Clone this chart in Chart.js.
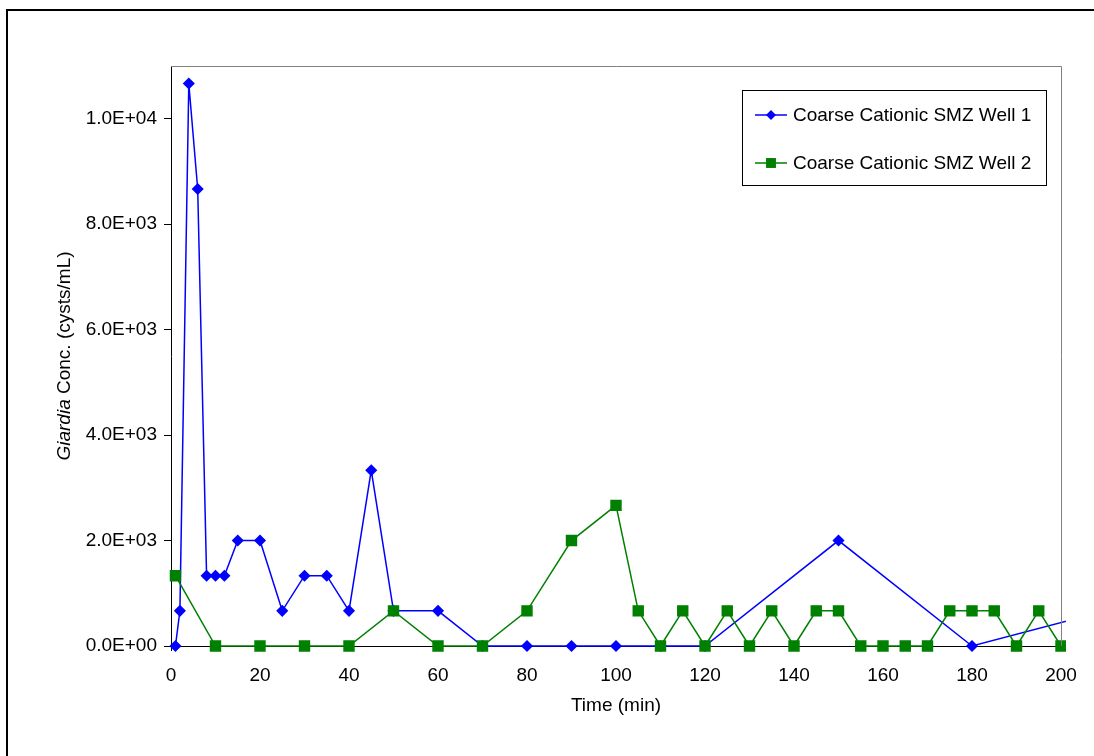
<!DOCTYPE html>
<html>
<head>
<meta charset="utf-8">
<script src="https://cdn.jsdelivr.net/npm/chart.js@4"></script>
<style>
  html, body { margin: 0; padding: 0; background: #fff; }
  #wrap { width: 1094px; height: 756px; }
</style>
</head>
<body>
<div id="wrap"><canvas id="myChart" width="1094" height="756"></canvas></div>
<script>
// times (min) and Giardia concentrations (cysts/mL)
const timeWell1 = [1, 2, 4, 6, 8, 10, 12, 15, 20, 25, 30, 35, 40, 45, 50, 60, 70, 80, 90, 100, 110, 120, 150, 180, 210];
const concWell1 = [0, 667, 10667, 8667, 1333, 1333, 1333, 2000, 2000, 667, 1333, 1333, 667, 3333, 667, 667, 0, 0, 0, 0, 0, 0, 2000, 0, 667];

const timeWell2 = [1, 10, 20, 30, 40, 50, 60, 70, 80, 90, 100, 105, 110, 115, 120, 125, 130, 135, 140, 145, 150, 155, 160, 165, 170, 175, 180, 185, 190, 195, 200];
const concWell2 = [1333, 0, 0, 0, 0, 667, 0, 0, 667, 2000, 2667, 667, 0, 667, 0, 667, 0, 667, 0, 667, 667, 0, 0, 0, 0, 667, 667, 667, 0, 667, 0];

const seriesNames = ["Coarse Cationic SMZ Well 1", "Coarse Cationic SMZ Well 2"];
const xTicks = [0, 20, 40, 60, 80, 100, 120, 140, 160, 180, 200];
const yTicks = [0, 2000, 4000, 6000, 8000, 10000];

const FONT = "'Liberation Sans', Arial, sans-serif";
const FS = 19;
const toPoints = (xs, ys) => xs.map((x, i) => ({ x: x, y: ys[i] }));

function sciLabel(v) {
  if (v === 0) return "0.0E+00";
  const e = Math.floor(Math.log10(v));
  const m = v / Math.pow(10, e);
  return m.toFixed(1) + "E+" + String(e).padStart(2, "0");
}

// frame, plot border, axis titles and legend box
const decorations = {
  id: "decorations",
  beforeDraw(chart) {
    const ctx = chart.ctx;
    ctx.save();
    ctx.fillStyle = "#fff";
    ctx.fillRect(0, 0, chart.width, chart.height);
    ctx.strokeStyle = "#000";
    ctx.lineWidth = 2;
    ctx.beginPath();
    ctx.moveTo(7, chart.height);
    ctx.lineTo(7, 10);
    ctx.lineTo(chart.width, 10);
    ctx.stroke();
    ctx.restore();
  },
  afterDraw(chart) {
    const ctx = chart.ctx;
    const a = chart.chartArea;
    ctx.save();
    // gray top / right edges of the plot area
    ctx.strokeStyle = "#808080";
    ctx.lineWidth = 1;
    ctx.beginPath();
    ctx.moveTo(a.left, a.top + 0.5);
    ctx.lineTo(a.right + 0.5, a.top + 0.5);
    ctx.lineTo(a.right + 0.5, a.bottom);
    ctx.stroke();

    // axis titles
    ctx.fillStyle = "#000";
    ctx.font = FS + "px " + FONT;
    ctx.textAlign = "center";
    ctx.textBaseline = "middle";
    ctx.fillText("Time (min)", (a.left + a.right) / 2, 706);

    ctx.translate(65, 356);
    ctx.rotate(-Math.PI / 2);
    ctx.textAlign = "left";
    ctx.font = "italic " + FS + "px " + FONT;
    const w1 = ctx.measureText("Giardia").width;
    ctx.font = FS + "px " + FONT;
    const rest = " Conc. (cysts/mL)";
    const w2 = ctx.measureText(rest).width;
    const start = -(w1 + w2) / 2;
    ctx.font = "italic " + FS + "px " + FONT;
    ctx.fillText("Giardia", start, 0);
    ctx.font = FS + "px " + FONT;
    ctx.fillText(rest, start + w1, 0);
    ctx.restore();

    // legend
    ctx.save();
    ctx.fillStyle = "#fff";
    ctx.fillRect(742, 90, 305, 96);
    ctx.strokeStyle = "#000";
    ctx.lineWidth = 1;
    ctx.strokeRect(742.5, 90.5, 304, 95);
    const rows = [115, 163];
    chart.data.datasets.forEach((ds, i) => {
      const y = rows[i];
      ctx.strokeStyle = ds.borderColor;
      ctx.lineWidth = 1.5;
      ctx.beginPath();
      ctx.moveTo(755, y);
      ctx.lineTo(787, y);
      ctx.stroke();
      ctx.fillStyle = ds.pointBackgroundColor;
      ctx.beginPath();
      if (ds.pointStyle === "rectRot") {
        const r = ds.pointRadius;
        ctx.moveTo(771, y - r); ctx.lineTo(771 + r, y); ctx.lineTo(771, y + r); ctx.lineTo(771 - r, y);
      } else {
        const s = ds.pointRadius * Math.SQRT1_2;
        ctx.rect(771 - s, y - s, 2 * s, 2 * s);
      }
      ctx.closePath();
      ctx.fill();
      ctx.fillStyle = "#000";
      ctx.font = FS + "px " + FONT;
      ctx.textAlign = "left";
      ctx.textBaseline = "middle";
      ctx.fillText(ds.label, 793, y + 1);
    });
    ctx.restore();
  }
};

const ctx = document.getElementById("myChart").getContext("2d");
new Chart(ctx, {
  type: "line",
  data: {
    datasets: [
      {
        label: seriesNames[0],
        data: toPoints(timeWell1, concWell1),
        borderColor: "#0000FF",
        backgroundColor: "#0000FF",
        pointBackgroundColor: "#0000FF",
        pointBorderColor: "#0000FF",
        pointStyle: "rectRot",
        pointRadius: 5,
        borderWidth: 1.5,
        tension: 0,
        fill: false,
        order: 1,
        clip: { left: 10, top: 10, right: 5, bottom: 10 }
      },
      {
        label: seriesNames[1],
        data: toPoints(timeWell2, concWell2),
        borderColor: "#008000",
        backgroundColor: "#008000",
        pointBackgroundColor: "#008000",
        pointBorderColor: "#008000",
        pointStyle: "rect",
        pointRadius: 7,
        borderWidth: 1.5,
        tension: 0,
        fill: false,
        order: 0,
        clip: { left: 10, top: 10, right: 5, bottom: 10 }
      }
    ]
  },
  options: {
    responsive: false,
    animation: false,
    events: [],
    layout: { padding: { left: 8, top: 66, right: 33, bottom: 0 } },
    plugins: {
      legend: { display: false },
      tooltip: { enabled: false }
    },
    scales: {
      x: {
        type: "linear",
        min: 0,
        max: 200,
        afterFit: s => { s.height = 110; },
        afterBuildTicks: s => { s.ticks = xTicks.map(v => ({ value: v })); },
        grid: { drawOnChartArea: false, drawTicks: true, tickLength: 5, color: "#000" },
        border: { color: "#000", width: 1 },
        ticks: { color: "#000", font: { family: FONT, size: FS }, padding: 13, maxRotation: 0 }
      },
      y: {
        type: "linear",
        min: 0,
        max: 11000,
        afterFit: s => { s.width = 163; },
        afterBuildTicks: s => { s.ticks = yTicks.map(v => ({ value: v })); },
        grid: { drawOnChartArea: false, drawTicks: true, tickLength: 7, color: "#000" },
        border: { color: "#000", width: 1 },
        ticks: { color: "#000", font: { family: FONT, size: FS }, padding: 7, callback: v => sciLabel(v) }
      }
    }
  },
  plugins: [decorations]
});
</script>
</body>
</html>
